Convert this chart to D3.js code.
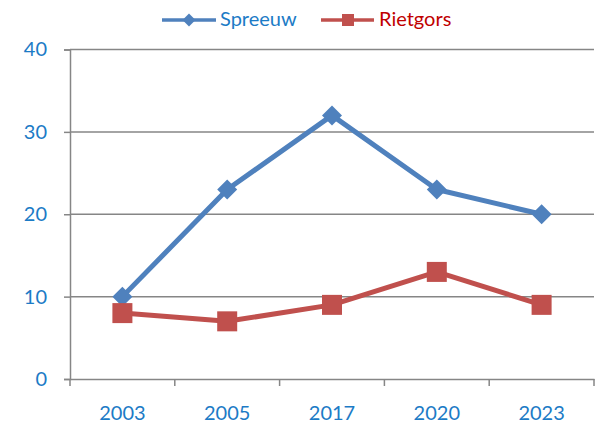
<!DOCTYPE html>
<html><head><meta charset="utf-8">
<script src="https://cdn.jsdelivr.net/npm/d3@7"></script>
<style>body{margin:0;background:#fff}svg{display:block}</style>
</head><body>
<script>
const categories = ["2003","2005","2017","2020","2023"];
const spreeuw = [10,23,32,23,20];
const rietgors = [8,7,9,13,9];
const yTicks = [0,10,20,30,40];
const seriesNames = ["Spreeuw","Rietgors"];

(function(){
const W=595,H=425;
const svg=d3.select("body").append("svg").attr("width",W).attr("height",H);
const mLeft=70,mRight=594,mTop=49.5,mBottom=379;
const x=d3.scaleBand().domain(categories).range([mLeft,mRight]);
const y=d3.scaleLinear().domain([0,40]).range([mBottom,mTop]);
const font="Lato, 'Open Sans', sans-serif";
const axisCol="#868686";
const labelCol="#1C7BC6";

svg.append("g").selectAll("line").data(yTicks.filter(d=>d>0)).join("line")
  .attr("x1",mLeft).attr("x2",mRight).attr("y1",d=>y(d)).attr("y2",d=>y(d))
  .attr("stroke",axisCol).attr("stroke-width",1.5);

const ya=svg.append("g").attr("transform",`translate(${mLeft},0)`)
  .call(d3.axisLeft(y).tickValues(yTicks).tickSize(6).tickPadding(17));
ya.select(".domain").attr("stroke",axisCol).attr("stroke-width",1.5);
ya.selectAll(".tick line").attr("stroke",axisCol).attr("stroke-width",1.5);
ya.selectAll("text").attr("fill",labelCol).attr("font-family",font).attr("font-size",20);

const xa=svg.append("g").attr("transform",`translate(0,${mBottom})`)
  .call(d3.axisBottom(x).tickSize(0).tickPadding(27));
xa.select(".domain").attr("stroke",axisCol).attr("stroke-width",1.5);
xa.selectAll("text").attr("fill",labelCol).attr("font-family",font).attr("font-size",20);
const bounds=[...categories.map(c=>x(c)), mRight];
xa.append("g").selectAll("line").data(bounds).join("line")
  .attr("x1",d=>d).attr("x2",d=>d).attr("y1",0).attr("y2",7)
  .attr("stroke",axisCol).attr("stroke-width",1.5);

const cx=c=>x(c)+x.bandwidth()/2;
const line=d3.line().x((d,i)=>cx(categories[i])).y(d=>y(d));

svg.append("path").datum(spreeuw).attr("d",line).attr("fill","none")
  .attr("stroke","#4F81BD").attr("stroke-width",5).attr("stroke-linejoin","round");
svg.append("path").datum(rietgors).attr("d",line).attr("fill","none")
  .attr("stroke","#C0504D").attr("stroke-width",5).attr("stroke-linejoin","round");

const diamond=(s)=>`M0,${-s}L${s},0L0,${s}L${-s},0Z`;
svg.append("g").selectAll("path").data(spreeuw).join("path")
  .attr("transform",(d,i)=>`translate(${cx(categories[i])},${y(d)})`)
  .attr("d",diamond(10)).attr("fill","#4F81BD");
svg.append("g").selectAll("rect").data(rietgors).join("rect")
  .attr("x",(d,i)=>cx(categories[i])-10).attr("y",d=>y(d)-10)
  .attr("width",20).attr("height",20).attr("fill","#C0504D");

const lg=svg.append("g");
lg.append("line").attr("x1",162).attr("x2",216).attr("y1",20).attr("y2",20)
  .attr("stroke","#4F81BD").attr("stroke-width",3.5);
lg.append("path").attr("transform","translate(189,20)").attr("d",diamond(6.5)).attr("fill","#4F81BD");
lg.append("text").attr("x",220).attr("y",26).text(seriesNames[0])
  .attr("fill","#1C7BC6").attr("font-family",font).attr("font-size",20);
lg.append("line").attr("x1",321).attr("x2",374).attr("y1",20).attr("y2",20)
  .attr("stroke","#C0504D").attr("stroke-width",3.5);
lg.append("rect").attr("x",342).attr("y",14).attr("width",12).attr("height",12).attr("fill","#C0504D");
lg.append("text").attr("x",379).attr("y",26).text(seriesNames[1])
  .attr("fill","#C00000").attr("font-family",font).attr("font-size",20);
})();
</script>
</body></html>
